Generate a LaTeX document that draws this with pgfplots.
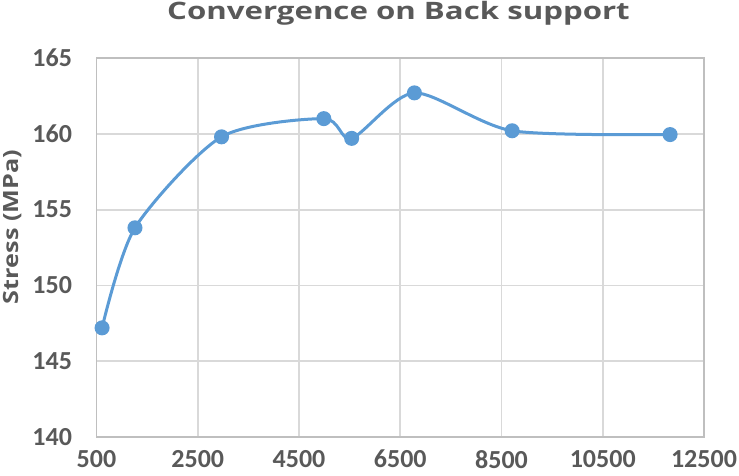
\documentclass[border=0pt]{standalone}
\usepackage{fontspec}
\setmainfont{Carlito}
\newfontfamily\titlefont[FakeStretch=1.3]{Open Sans}
\newfontfamily\labelfont[FakeStretch=1.2]{Open Sans}
\usepackage{pgfplots}
\pgfplotsset{compat=1.18}
\definecolor{serie}{HTML}{5B9BD5}
\definecolor{txt}{HTML}{595959}
\definecolor{gridc}{HTML}{D9D9D9}
\definecolor{boxc}{HTML}{BFBFBF}
\begin{document}
\begin{tikzpicture}
\begin{axis}[
    at={(0pt,0pt)}, anchor=south west,
    scale only axis,
    width=607.5pt, height=379pt,
    xmin=500, xmax=12500,
    ymin=140, ymax=165,
    xtick={500,2500,4500,6500,8500,10500,12500},
    ytick={140,145,150,155,160,165},
    scaled x ticks=false,
    /pgf/number format/assume math mode=true,
    xticklabel={\pgfmathprintnumber[fixed,1000 sep={}]{\tick}},
    yticklabel={\pgfmathprintnumber[fixed]{\tick}},
    ticklabel style={font=\fontsize{26}{26}\selectfont\bfseries, text=txt},
    xticklabel style={inner sep=0pt, yshift=-13pt},
    yticklabel style={xshift=-21pt},
    major tick length=0pt,
    grid=major,
    major grid style={gridc, line width=1.8pt},
    axis line style={boxc, line width=1.5pt},
    ylabel={Stress (MPa)},
    every axis y label/.style={at={(-84pt,210pt)}, rotate=90, anchor=center,
        font=\labelfont\fontsize{21}{21}\selectfont\bfseries, text=txt},
    title={Convergence on Back support},
    every axis title/.style={at={(302pt,424pt)}, anchor=center,
        font=\titlefont\fontsize{24}{24}\selectfont\bfseries, text=txt},
]
\addplot[serie, line width=3pt, smooth, tension=0.45,
    mark=*, mark size=6pt, mark options={fill=serie, draw=serie}]
coordinates {
    (610,147.2) (1260,153.8) (2970,159.8) (4990,161.0)
    (5540,159.7) (6780,162.7) (8710,160.2) (11830,159.95)
};
\end{axis}
\pgfresetboundingbox
\path (-96.5pt,-38pt) rectangle (642.5pt,437pt);
\end{tikzpicture}
\end{document}
